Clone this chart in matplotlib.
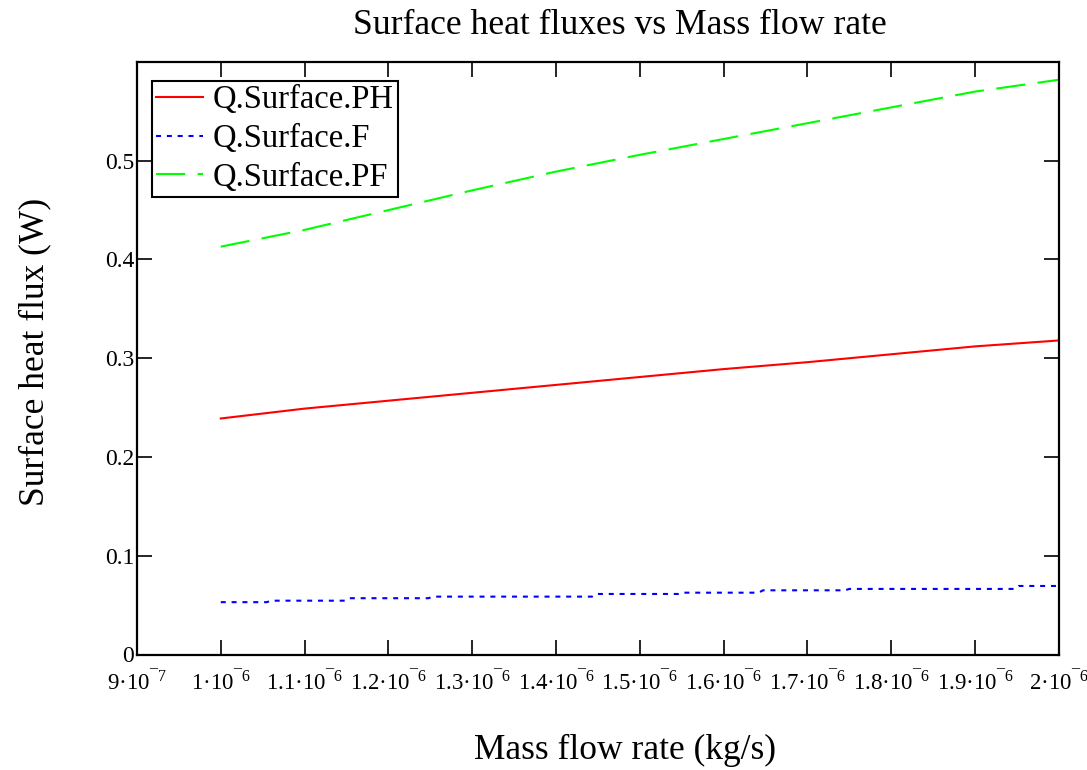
"""Surface heat fluxes vs mass flow rate (Mathcad-style plot)."""
import matplotlib
matplotlib.use("Agg")
import matplotlib.pyplot as plt

plt.rcParams["font.family"] = ["Liberation Serif", "DejaVu Serif"]
plt.rcParams["mathtext.fontset"] = "custom"
plt.rcParams["mathtext.rm"] = "Liberation Serif"
plt.rcParams["mathtext.it"] = "Liberation Serif:italic"

# mass flow rate (kg/s)
mdot = [1.0e-6, 1.1e-6, 1.2e-6, 1.3e-6, 1.4e-6, 1.5e-6,
        1.6e-6, 1.7e-6, 1.8e-6, 1.9e-6, 2.0e-6]
q_ph = [0.239, 0.249, 0.257, 0.265, 0.273, 0.281,
        0.289, 0.296, 0.304, 0.312, 0.318]
q_pf = [0.413, 0.430, 0.450, 0.470, 0.489, 0.506,
        0.522, 0.538, 0.554, 0.570, 0.582]

# F curve is drawn as small steps in the original
mdot_f = [1.000e-6, 1.055e-6, 1.060e-6, 1.148e-6, 1.153e-6, 1.248e-6,
          1.253e-6, 1.443e-6, 1.448e-6, 1.546e-6, 1.551e-6, 1.642e-6,
          1.647e-6, 1.745e-6, 1.750e-6, 1.947e-6, 1.952e-6, 2.000e-6]
q_f = [0.0530, 0.0530, 0.0545, 0.0545, 0.0570, 0.0570,
       0.0586, 0.0586, 0.0613, 0.0613, 0.0626, 0.0626,
       0.0650, 0.0650, 0.0664, 0.0664, 0.0694, 0.0694]

xticks = [9e-7, 1.0e-6, 1.1e-6, 1.2e-6, 1.3e-6, 1.4e-6, 1.5e-6,
          1.6e-6, 1.7e-6, 1.8e-6, 1.9e-6, 2.0e-6]
xticklabels = ["9·10$^{¯7}$", "1·10$^{¯6}$", "1.1·10$^{¯6}$", "1.2·10$^{¯6}$",
               "1.3·10$^{¯6}$", "1.4·10$^{¯6}$", "1.5·10$^{¯6}$", "1.6·10$^{¯6}$",
               "1.7·10$^{¯6}$", "1.8·10$^{¯6}$", "1.9·10$^{¯6}$", "2·10$^{¯6}$"]
yticks = [0, 0.1, 0.2, 0.3, 0.4, 0.5]
yticklabels = ["0", "0.1", "0.2", "0.3", "0.4", "0.5"]

fig = plt.figure(figsize=(10.87, 7.70), dpi=100)
ax = fig.add_axes([0.126, 0.15, 0.848, 0.7695])

ax.plot(mdot, q_ph, color="#ff0000", lw=1.5, label="Q.Surface.PH")
ax.plot(mdot_f, q_f, color="#0000ff", lw=1.5, dashes=[2.4, 2.8],
        label="Q.Surface.F")
ax.plot(mdot, q_pf, color="#00ff00", lw=1.5, dashes=[14, 6],
        label="Q.Surface.PF")

ax.set_xlim(9e-7, 2e-6)
ax.set_ylim(0, 0.6)
ax.set_xticks(xticks)
ax.set_xticklabels(xticklabels, fontsize=16.5)
ax.set_yticks(yticks)
ax.set_yticklabels(yticklabels, fontsize=17)
ax.tick_params(direction="in", length=11, width=1.2, top=True, right=True,
               color="black")
ax.tick_params(axis="x", pad=11)
ax.tick_params(axis="y", pad=2)
for sp in ax.spines.values():
    sp.set_linewidth(1.6)

leg = ax.legend(loc="upper left", bbox_to_anchor=(0.0163, 0.968),
                borderaxespad=0, fontsize=23.5, handlelength=1.45,
                handletextpad=0.3, labelspacing=0.25, borderpad=0.12,
                fancybox=False, framealpha=1)
leg.get_frame().set_edgecolor("black")
leg.get_frame().set_linewidth(1.5)

fig.text(620 / 1087, 1 - 25 / 770, "Surface heat fluxes vs Mass flow rate",
         ha="center", va="center", fontsize=25.7)
fig.text(625 / 1087, 1 - 750 / 770, "Mass flow rate (kg/s)",
         ha="center", va="center", fontsize=25.5)
fig.text(35 / 1087, 1 - 352 / 770, "Surface heat flux (W)",
         ha="center", va="center", fontsize=25.5, rotation=90)

fig.savefig("out.png", dpi=100)
